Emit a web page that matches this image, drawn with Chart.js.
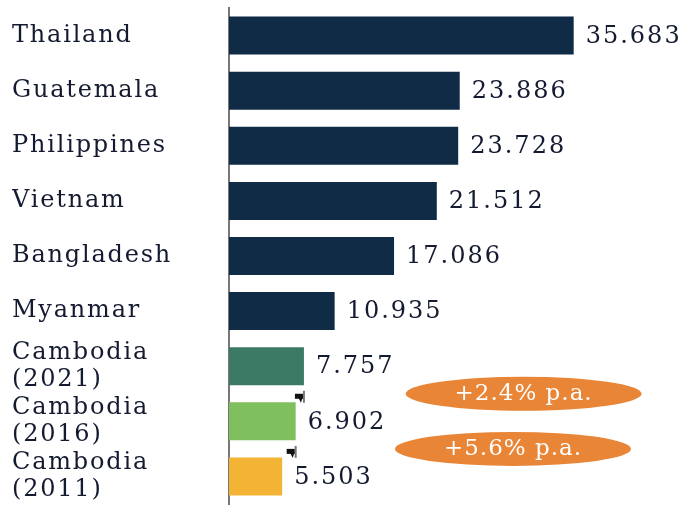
<!DOCTYPE html>
<html>
<head>
<meta charset="utf-8">
<script src="https://cdn.jsdelivr.net/npm/chart.js@4.4.0/dist/chart.umd.min.js"></script>
<style>
  body { margin: 0; background: #fff; }
</style>
</head>
<body>
<canvas id="chart1" width="691" height="517"></canvas>
<script>
const countries = ['Thailand', 'Guatemala', 'Philippines', 'Vietnam', 'Bangladesh', 'Myanmar',
  ['Cambodia', '(2021)'], ['Cambodia', '(2016)'], ['Cambodia', '(2011)']];
const values = [35.683, 23.886, 23.728, 21.512, 17.086, 10.935, 7.757, 6.902, 5.503];
const barColors = ['#0f2b45', '#0f2b45', '#0f2b45', '#0f2b45', '#0f2b45', '#0f2b45',
  '#3c7a66', '#7fbf5e', '#f3b436'];
const growthNotes = ['+2.4% p.a.', '+5.6% p.a.'];

const serif = '"DejaVu Serif", "Liberation Serif", serif';
const textColor = '#141a30';

// a little letter spacing for the axis labels, like the original
const spacing = {
  id: 'spacing',
  beforeDraw(chart) { chart.ctx.letterSpacing = '1.8px'; },
  afterDraw(chart) { chart.ctx.letterSpacing = '0px'; }
};

// value labels at bar ends
const valueLabels = {
  id: 'valueLabels',
  afterDatasetsDraw(chart) {
    const ctx = chart.ctx;
    const meta = chart.getDatasetMeta(0);
    ctx.save();
    ctx.letterSpacing = '2px';
    ctx.font = '24px ' + serif;
    ctx.fillStyle = textColor;
    ctx.textAlign = 'left';
    ctx.textBaseline = 'middle';
    meta.data.forEach((bar, i) => {
      ctx.fillText(values[i].toFixed(3), bar.x + 12, bar.y + 1);
    });
    ctx.restore();
  }
};

// growth ellipses + small markers between the Cambodia bars
const growthNotesPlugin = {
  id: 'growthNotes',
  afterDatasetsDraw(chart) {
    const ctx = chart.ctx;
    const meta = chart.getDatasetMeta(0);
    const xs = chart.scales.x;
    const centers = [30.5, 29.4];
    ctx.save();
    growthNotes.forEach((txt, k) => {
      const upper = meta.data[6 + k];
      const lower = meta.data[7 + k];
      const y = (upper.y + lower.y) / 2;
      // marker at end of upper bar
      const mx = upper.x;
      const my = y + 3;
      ctx.strokeStyle = '#777';
      ctx.lineWidth = 2;
      ctx.beginPath();
      ctx.moveTo(mx, my - 6);
      ctx.lineTo(mx, my + 6);
      ctx.stroke();
      ctx.fillStyle = '#111';
      ctx.fillRect(mx - 9, my - 3, 8, 5);
      ctx.beginPath();
      ctx.moveTo(mx - 6, my);
      ctx.lineTo(mx - 3, my + 6);
      ctx.lineTo(mx - 1, my);
      ctx.closePath();
      ctx.fill();
      // ellipse
      const cx = xs.getPixelForValue(centers[k]);
      ctx.fillStyle = '#e98536';
      ctx.beginPath();
      ctx.ellipse(cx, y, 118, 17, 0, 0, Math.PI * 2);
      ctx.fill();
      ctx.fillStyle = '#ffffff';
      ctx.font = '23px ' + serif;
      ctx.letterSpacing = '1px';
      ctx.textAlign = 'center';
      ctx.textBaseline = 'middle';
      ctx.fillText(txt, cx, y);
    });
    ctx.restore();
  }
};

const chart1 = new Chart(document.getElementById('chart1'), {
  type: 'bar',
  plugins: [spacing, valueLabels, growthNotesPlugin],
  options: {
    indexAxis: 'y',
    responsive: false,
    animation: false,
    layout: {
      padding: { left: 12, top: 8, bottom: 13, right: 8 }
    },
    plugins: {
      legend: { display: false },
      tooltip: { enabled: false }
    },
    scales: {
      x: {
        display: false,
        min: 0,
        max: 47
      },
      y: {
        afterFit(scale) {
          scale.width = 217;
          scale.paddingTop = 0;
          scale.paddingBottom = 0;
        },
        grid: { display: false },
        border: { display: true, color: '#777', width: 2 },
        ticks: {
          autoSkip: false,
          crossAlign: 'far',
          color: textColor,
          font: { family: serif, size: 24, lineHeight: 1.12 }
        }
      }
    }
  },
  data: {
    labels: countries,
    datasets: [{
      data: values,
      backgroundColor: barColors,
      barPercentage: 0.69,
      categoryPercentage: 1
    }]
  }
});
</script>
</body>
</html>
